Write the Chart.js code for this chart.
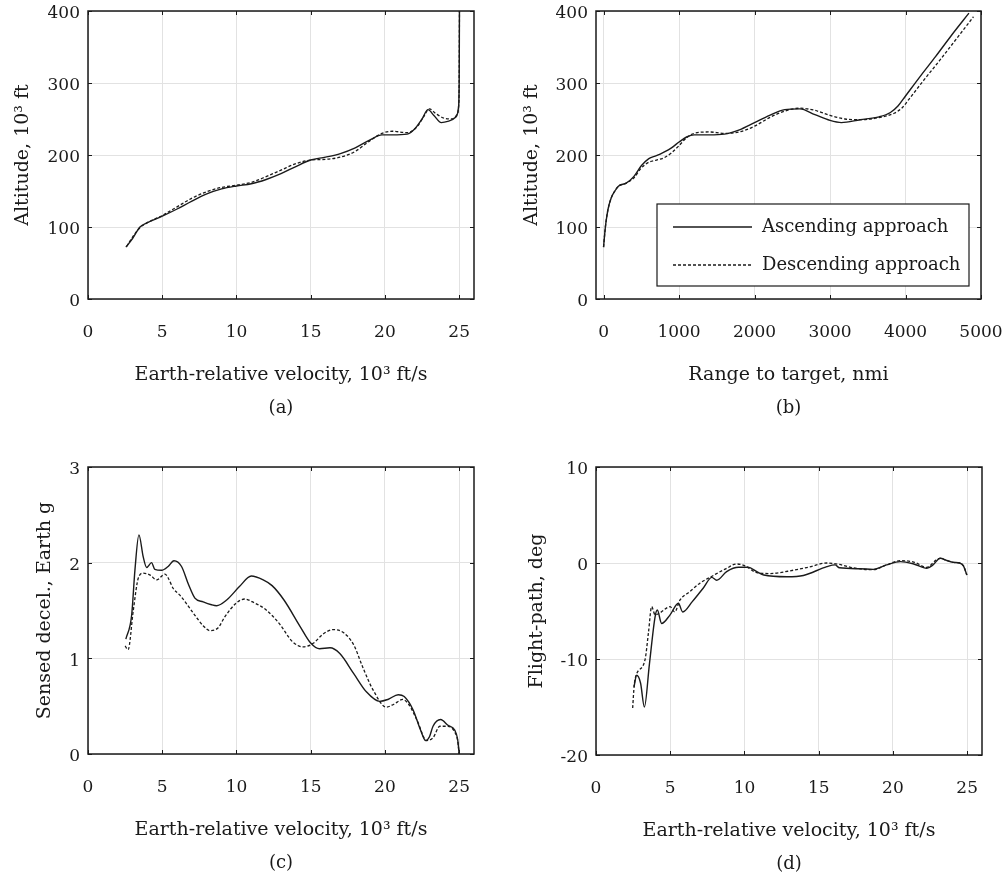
<!DOCTYPE html>
<html>
<head>
<meta charset="utf-8">
<script src="https://cdn.jsdelivr.net/npm/chart.js@4/dist/chart.umd.min.js"></script>
<style>
  html, body { margin: 0; padding: 0; background: #fff; }
  #wrap { position: relative; width: 1003px; height: 877px; }
  canvas { position: absolute; }
</style>
</head>
<body>
<div id="wrap">
  <canvas id="panelA" width="500" height="420" style="left:0;top:0"></canvas>
  <canvas id="panelB" width="503" height="420" style="left:500px;top:0"></canvas>
  <canvas id="panelC" width="500" height="457" style="left:0;top:420px"></canvas>
  <canvas id="panelD" width="503" height="457" style="left:500px;top:420px"></canvas>
</div>
<script>
// series labels
const seriesLabels = ['Ascending approach', 'Descending approach'];

// tick values
const velTicks = [0, 5, 10, 15, 20, 25];
const altTicks = [0, 100, 200, 300, 400];
const rangeTicks = [0, 1000, 2000, 3000, 4000, 5000];
const decelTicks = [0, 1, 2, 3];
const gammaTicks = [-20, -10, 0, 10];

// (a) altitude vs velocity
const aVelAsc = [2.55, 3.0, 3.5, 4.0, 5.0, 6.0, 7.0, 8.0, 9.0, 10.0, 11.0, 12.0, 13.0, 14.0, 15.0, 16.0, 17.0, 18.0, 19.0, 19.8, 20.5, 21.5, 22.0, 22.5, 22.9, 23.3, 23.8, 24.3, 24.8, 24.95, 25.0, 25.02];
const aAltAsc = [72, 84, 100, 106, 115, 125, 136, 146, 153, 157, 160, 166, 174, 184, 193, 197, 202, 210, 221, 228, 228, 229, 236, 250, 263, 255, 245, 247, 253, 265, 300, 400];
const aVelDes = [2.6, 3.0, 3.5, 4.0, 5.0, 6.0, 7.0, 8.0, 9.0, 10.0, 11.0, 12.0, 13.0, 14.0, 15.0, 16.0, 17.0, 18.0, 19.0, 19.8, 20.5, 21.5, 22.2, 22.6, 23.0, 23.4, 24.0, 24.5, 24.85, 24.97, 25.0, 25.02];
const aAltDes = [73, 86, 99, 106, 116, 128, 140, 149, 155, 158, 162, 170, 179, 188, 193, 194, 197, 205, 220, 230, 233, 231, 240, 253, 264, 258, 251, 250, 256, 270, 300, 400];

// (b) altitude vs range to target
const bRangeAsc = [0, 15, 30, 60, 100, 150, 200, 300, 400, 500, 600, 700, 800, 900, 1000, 1100, 1200, 1400, 1600, 1800, 2000, 2200, 2400, 2600, 2800, 3000, 3150, 3400, 3650, 3800, 3900, 4000, 4200, 4400, 4600, 4840];
const bAltAsc = [72, 90, 105, 125, 140, 150, 157, 161, 170, 185, 195, 199, 204, 210, 218, 225, 228, 228, 229, 235, 245, 255, 263, 264, 256, 248, 245, 249, 253, 259, 268, 282, 310, 337, 365, 397];
const bRangeDes = [0, 15, 30, 60, 100, 150, 200, 300, 400, 500, 600, 700, 800, 900, 1000, 1100, 1200, 1400, 1600, 1800, 2000, 2200, 2400, 2600, 2800, 3000, 3200, 3400, 3650, 3850, 3950, 4050, 4250, 4450, 4650, 4900];
const bAltDes = [72, 90, 105, 125, 140, 150, 157, 161, 168, 182, 190, 193, 196, 203, 213, 224, 230, 232, 230, 232, 240, 252, 261, 265, 262, 255, 250, 249, 252, 258, 265, 278, 305, 331, 358, 392];

// (c) sensed deceleration vs velocity
const cVelAsc = [2.55, 2.94, 3.16, 3.43, 3.72, 3.95, 4.28, 4.5, 4.96, 5.4, 5.79, 6.3, 6.75, 7.2, 7.76, 8.32, 8.66, 9.34, 10.2, 11.0, 11.8, 12.4, 13.2, 14.3, 15.0, 15.6, 16.3, 16.96, 17.9, 18.75, 19.65, 20.2, 20.9, 21.3, 21.9, 22.4, 22.75, 23.0, 23.24, 23.75, 24.25, 24.7, 24.9, 25.0];
const cDecelAsc = [1.20, 1.45, 1.92, 2.29, 2.06, 1.95, 2.0, 1.93, 1.92, 1.96, 2.02, 1.96, 1.78, 1.63, 1.59, 1.56, 1.55, 1.61, 1.75, 1.86, 1.82, 1.76, 1.61, 1.33, 1.16, 1.10, 1.11, 1.05, 0.84, 0.65, 0.55, 0.57, 0.62, 0.60, 0.46, 0.25, 0.14, 0.18, 0.29, 0.36, 0.30, 0.25, 0.15, 0];
const cVelDes = [2.5, 2.7, 3.05, 3.39, 3.72, 4.19, 4.62, 5.18, 5.4, 5.74, 6.19, 6.64, 7.2, 7.76, 8.2, 8.77, 9.2, 10.0, 10.55, 11.2, 11.97, 12.9, 13.8, 14.5, 15.2, 15.8, 16.5, 17.2, 17.9, 18.5, 19.2, 20.1, 20.6, 21.2, 21.6, 22.2, 22.8, 23.24, 23.7, 24.25, 24.7, 24.9, 25.0];
const cDecelDes = [1.13, 1.09, 1.5, 1.84, 1.89, 1.87, 1.82, 1.88, 1.84, 1.73, 1.66, 1.57, 1.45, 1.34, 1.29, 1.32, 1.43, 1.58, 1.62, 1.58, 1.51, 1.36, 1.17, 1.12, 1.16, 1.25, 1.30, 1.27, 1.14, 0.91, 0.67, 0.49, 0.52, 0.57, 0.52, 0.34, 0.14, 0.17, 0.29, 0.29, 0.23, 0.14, 0];

// (d) flight-path angle vs velocity
const dVelAsc = [2.56, 2.74, 3.0, 3.26, 3.6, 3.98, 4.13, 4.42, 4.99, 5.55, 5.84, 6.5, 7.23, 7.8, 8.13, 8.8, 9.6, 10.25, 10.83, 11.3, 12.85, 13.97, 15.55, 16.1, 16.4, 17.77, 18.67, 19.57, 20.5, 21.4, 22.28, 22.7, 23.18, 23.63, 24.08, 24.5, 24.75, 24.98];
const dGammaAsc = [-12.9, -11.7, -12.5, -15.0, -10.5, -5.6, -4.9, -6.3, -5.4, -4.2, -5.1, -4.0, -2.6, -1.5, -1.8, -0.9, -0.45, -0.45, -0.9, -1.25, -1.43, -1.3, -0.38, -0.2, -0.5, -0.6, -0.66, -0.2, 0.14, -0.1, -0.55, -0.2, 0.49, 0.26, 0.06, 0, -0.3, -1.25];
const dVelDes = [2.47, 2.57, 2.7, 3.3, 3.53, 3.75, 3.98, 4.3, 4.99, 5.3, 5.66, 6.3, 7.0, 7.9, 8.8, 9.46, 10.04, 10.83, 11.7, 13.3, 14.4, 15.55, 16.4, 17.3, 18.67, 19.57, 20.5, 21.4, 22.28, 22.9, 23.18, 23.63, 24.08, 24.5, 24.75, 24.98];
const dGammaDes = [-15.1, -12.8, -11.7, -10.1, -7.3, -4.55, -5.4, -5.2, -4.55, -5.1, -3.85, -3.0, -2.1, -1.3, -0.55, -0.1, -0.3, -1.0, -1.1, -0.75, -0.4, 0.0, -0.15, -0.5, -0.7, -0.2, 0.24, 0.1, -0.45, 0.3, 0.49, 0.26, 0.06, 0, -0.3, -1.25];

const FAMILY = '"DejaVu Serif", serif';
const TICK_FONT = { family: FAMILY, size: 17 };
const TITLE_FONT = { family: FAMILY, size: 19 };
const LEGEND_SIZE = 18;
const INK = '#1a1a1a';
const X_AXIS_H = 112;

const pts = (xs, ys) => xs.map((x, i) => ({ x: x, y: ys[i] }));

// frame with inward ticks, caption and legend drawn after the lines
const framePlugin = {
  id: 'frame',
  afterDatasetsDraw(chart, args, opts) {
    const { ctx, chartArea: { left, top, right, bottom }, scales: { x, y } } = chart;
    ctx.save();
    ctx.strokeStyle = INK;
    ctx.lineWidth = 1;
    ctx.beginPath();
    x.ticks.forEach(t => {
      const px = Math.round(x.getPixelForValue(t.value)) + 0.5;
      ctx.moveTo(px, bottom); ctx.lineTo(px, bottom - 4);
      ctx.moveTo(px, top); ctx.lineTo(px, top + 4);
    });
    y.ticks.forEach(t => {
      const py = Math.round(y.getPixelForValue(t.value)) + 0.5;
      ctx.moveTo(left, py); ctx.lineTo(left + 4, py);
      ctx.moveTo(right, py); ctx.lineTo(right - 4, py);
    });
    ctx.stroke();
    ctx.lineWidth = 1.5;
    ctx.strokeRect(left, top, right - left, bottom - top);

    ctx.fillStyle = INK;
    ctx.font = '18px ' + FAMILY;
    ctx.textAlign = 'center';
    ctx.textBaseline = 'middle';
    ctx.fillText(opts.caption, (left + right) / 2, bottom + 109);

    if (opts.legend) {
      const bw = 312, bh = 82;
      const bx = right - 12 - bw, by = bottom - 13 - bh;
      ctx.fillStyle = '#fff';
      ctx.fillRect(bx, by, bw, bh);
      ctx.lineWidth = 1.2;
      ctx.strokeStyle = INK;
      ctx.strokeRect(bx, by, bw, bh);
      ctx.font = LEGEND_SIZE + 'px ' + FAMILY;
      chart.data.datasets.forEach((ds, i) => {
        const ly = by + 23 + i * 38;
        ctx.beginPath();
        ctx.lineWidth = ds.borderWidth;
        ctx.setLineDash(ds.borderDash || []);
        ctx.moveTo(bx + 16, ly); ctx.lineTo(bx + 95, ly);
        ctx.stroke();
        ctx.setLineDash([]);
        ctx.fillStyle = INK;
        ctx.textAlign = 'left';
        ctx.fillText(ds.label, bx + 105, ly);
      });
    }
    ctx.restore();
  }
};

function makePanel(id, cfg) {
  const canvas = document.getElementById(id);
  const W = canvas.width, H = canvas.height;
  const ctx = canvas.getContext('2d');
  new Chart(ctx, {
    type: 'scatter',
    data: {
      datasets: [
        {
          label: seriesLabels[0],
          data: pts(cfg.x1, cfg.y1),
          showLine: true,
          borderColor: INK,
          borderWidth: 1.4,
          pointRadius: 0,
          cubicInterpolationMode: 'monotone'
        },
        {
          label: seriesLabels[1],
          data: pts(cfg.x2, cfg.y2),
          showLine: true,
          borderColor: INK,
          borderWidth: 1.3,
          borderDash: [3, 2],
          pointRadius: 0,
          cubicInterpolationMode: 'monotone'
        }
      ]
    },
    options: {
      responsive: false,
      animation: false,
      layout: {
        padding: { left: 0, top: cfg.top, right: W - cfg.right, bottom: H - cfg.bottom - X_AXIS_H }
      },
      plugins: {
        legend: { display: false },
        tooltip: { enabled: false },
        frame: { caption: cfg.caption, legend: cfg.legend }
      },
      scales: {
        x: {
          type: 'linear',
          min: cfg.xMin,
          max: cfg.xMax,
          afterBuildTicks: s => { s.ticks = cfg.xTicks.map(v => ({ value: v })); },
          afterFit: s => { s.height = X_AXIS_H; s.paddingLeft = 0; s.paddingRight = 0; },
          grid: { color: '#e2e2e2', drawTicks: false },
          border: { display: false },
          ticks: { font: TICK_FONT, color: INK, padding: 23, maxRotation: 0, autoSkip: false,
                   callback: v => String(v) },
          title: { display: true, text: cfg.xTitle, font: TITLE_FONT, color: INK, padding: { top: 0, bottom: 24.6 } }
        },
        y: {
          type: 'linear',
          min: cfg.yMin,
          max: cfg.yMax,
          afterBuildTicks: s => { s.ticks = cfg.yTicks.map(v => ({ value: v })); },
          afterFit: s => { s.width = cfg.left; s.paddingTop = 0; s.paddingBottom = 0; },
          grid: { color: '#e2e2e2', drawTicks: false },
          border: { display: false },
          ticks: { font: TICK_FONT, color: INK, padding: 8, autoSkip: false, labelOffset: 3,
                   callback: v => String(v) },
          title: { display: true, text: cfg.yTitle, font: TITLE_FONT, color: INK, padding: { top: cfg.yTitlePad, bottom: 0 } }
        }
      }
    },
    plugins: [framePlugin]
  });
}

const velTitle = 'Earth-relative velocity, 10\u00B3 ft/s';

makePanel('panelA', {
  x1: aVelAsc, y1: aAltAsc, x2: aVelDes, y2: aAltDes,
  xMin: 0, xMax: 26, xTicks: velTicks, yMin: 0, yMax: 400, yTicks: altTicks,
  left: 88, right: 474, top: 11, bottom: 299, yTitlePad: 11.6,
  xTitle: velTitle, yTitle: 'Altitude, 10\u00B3 ft', caption: '(a)', legend: false
});
makePanel('panelB', {
  x1: bRangeAsc, y1: bAltAsc, x2: bRangeDes, y2: bAltDes,
  xMin: -100, xMax: 5000, xTicks: rangeTicks, yMin: 0, yMax: 400, yTicks: altTicks,
  left: 96, right: 481, top: 11, bottom: 299, yTitlePad: 20.6,
  xTitle: 'Range to target, nmi', yTitle: 'Altitude, 10\u00B3 ft', caption: '(b)', legend: true
});
makePanel('panelC', {
  x1: cVelAsc, y1: cDecelAsc, x2: cVelDes, y2: cDecelDes,
  xMin: 0, xMax: 26, xTicks: velTicks, yMin: 0, yMax: 3, yTicks: decelTicks,
  left: 88, right: 474, top: 47, bottom: 334, yTitlePad: 33.6,
  xTitle: velTitle, yTitle: 'Sensed decel., Earth g', caption: '(c)', legend: false
});
makePanel('panelD', {
  x1: dVelAsc, y1: dGammaAsc, x2: dVelDes, y2: dGammaDes,
  xMin: 0, xMax: 26, xTicks: velTicks, yMin: -20, yMax: 10, yTicks: gammaTicks,
  left: 96, right: 482, top: 47, bottom: 335, yTitlePad: 25.6,
  xTitle: velTitle, yTitle: 'Flight-path, deg', caption: '(d)', legend: false
});
</script>
</body>
</html>
